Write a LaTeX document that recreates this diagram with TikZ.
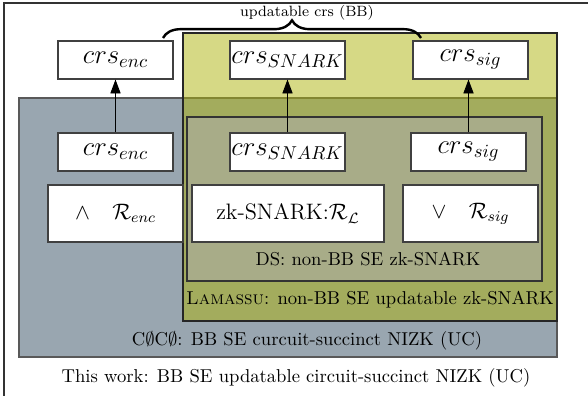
\documentclass[tikz,border=0pt]{standalone}
\usetikzlibrary{arrows.meta,decorations.pathreplacing}
\definecolor{bluegray}{RGB}{153,166,176}
\definecolor{ylw}{RGB}{173,179,11}
\definecolor{dsgray}{RGB}{168,172,136}
\begin{document}
\begin{tikzpicture}[x=0.537pt,y=-0.537pt,
  wbox/.style={draw=black!75, fill=white, line width=0.55pt, inner sep=0pt},
  crsbox/.style={wbox, minimum width=115*0.537pt, minimum height=38*0.537pt, font=\Large},
  relbox/.style={wbox, minimum height=57*0.537pt, font=\large},
  arr/.style={-{Triangle[length=7.5pt,width=5.5pt]}, line width=0.5pt},
  lbl/.style={anchor=base, inner sep=0pt}]
\useasboundingbox (0,0) rectangle (588,396);
\clip (0,0) rectangle (588,396);
% outer frame (partly visible)
\draw[black!80, line width=0.6pt] (4,420) -- (4,3) -- (620,3);
% regions
\draw[fill=bluegray, draw=black!65, line width=0.7pt] (19,98) rectangle (557,357);
\fill[ylw, fill opacity=0.5] (183,33) rectangle (557,321);
\draw[black!85, line width=0.55pt] (183,33) rectangle (557,321);
\draw[fill=dsgray, draw=black!80, line width=0.55pt] (187,117) rectangle (542,281);
% crs boxes
\node[crsbox] (encT) at (115.5,60) {$crs_{enc}$};
\node[crsbox] (snkT) at (287.5,60) {$crs_{SNARK}$};
\node[crsbox] (sigT) at (470.5,60) {$crs_{sig}$};
\node[crsbox] (encB) at (115.5,152) {$crs_{enc}$};
\node[crsbox] (snkB) at (287.5,152) {$crs_{SNARK}$};
\node[crsbox] (sigB) at (468.5,152) {$crs_{sig}$};
% relation boxes
\node[relbox, minimum width=135*0.537pt] (renc) at (115.5,213.5) {$\wedge$\quad$\mathcal{R}_{enc}$};
\node[relbox, minimum width=192*0.537pt] (zk) at (288,213.5) {zk-SNARK:$\mathcal{R}_{\mathcal{L}}$};
\node[relbox, minimum width=135*0.537pt] (rsig) at (470.5,213.5) {$\vee$\quad$\mathcal{R}_{sig}$};
% arrows
\draw[arr] (encB.north) -- (encB.north |- encT.south);
\draw[arr] (snkB.north) -- (snkB.north |- snkT.south);
\draw[arr] (sigB.north) -- (sigB.north |- sigT.south);
% brace
\coordinate (bl) at (163,38);
\coordinate (br) at (421,38);
\draw[line width=1.3pt, decorate, decoration={brace, amplitude=9.5pt}] (bl) -- (br);
\node[lbl, font=\footnotesize] (ub) at (307,16) {updatable crs (BB)};
% labels
\node[lbl] (ds) at (368,265) {DS: non-BB SE zk-SNARK};
\node[lbl] (lam) at (370,304) {\textsc{Lamassu}: non-BB SE updatable zk-SNARK};
\node[lbl] (coco) at (307,345) {C$\emptyset$C$\emptyset$: BB SE curcuit-succinct NIZK (UC)};
\node[lbl] (tw) at (296,382) {This work: BB SE updatable circuit-succinct NIZK (UC)};
\end{tikzpicture}
\end{document}
